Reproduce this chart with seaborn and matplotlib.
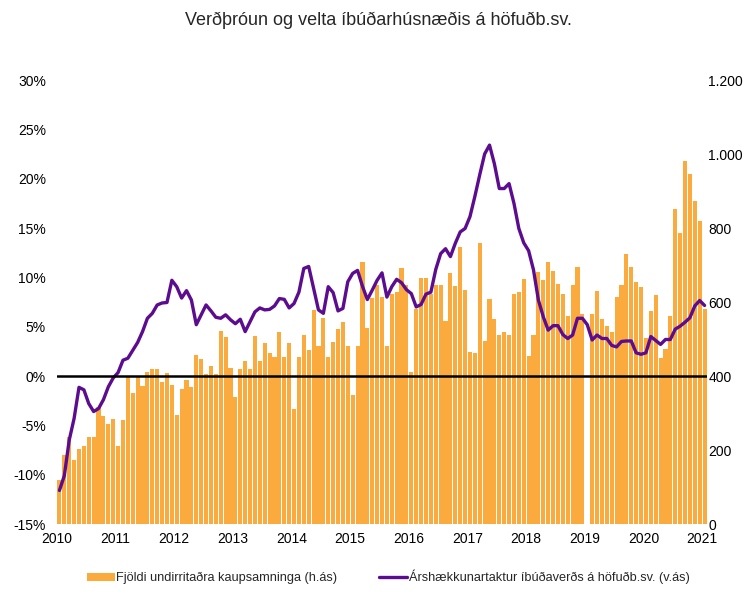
import matplotlib
matplotlib.use("Agg")
import matplotlib.pyplot as plt
import matplotlib.ticker as mticker
import numpy as np
import pandas as pd
import seaborn as sns

# ---- data (monthly, Jan 2010 - Jan 2021) ----
years = list(range(2010, 2022))

contracts = [120, 186, 236, 173, 202, 211, 236, 236, 317, 292, 270, 283,
             211, 281, 398, 355, 397, 373, 412, 418, 418, 385, 407, 376,
             295, 365, 389, 369, 457, 446, 405, 427, 405, 522, 506, 421,
             343, 418, 441, 418, 508, 441, 489, 462, 452, 520, 452, 490,
             311, 452, 511, 470, 578, 481, 556, 452, 492, 527, 546, 481,
             349, 481, 708, 530, 611, 646, 614, 481, 622, 628, 692, 646,
             410, 580, 665, 665, 622, 646, 646, 549, 679, 643, 749, 632,
             466, 462, 759, 495, 608, 554, 511, 518, 511, 622, 627, 662,
             455, 511, 681, 659, 708, 684, 649, 621, 562, 646, 695, 568,
             0, 568, 631, 554, 535, 519, 614, 646, 730, 695, 654, 641,
             504, 577, 619, 449, 473, 562, 851, 786, 981, 946, 873, 819,
             581]

price_growth = [-11.6, -10.1, -6.5, -4.3, -1.15, -1.4, -2.8, -3.6, -3.3, -2.4, -1.1, -0.2,
                0.35, 1.6, 1.8, 2.6, 3.4, 4.5, 5.85, 6.35, 7.2, 7.4, 7.45, 9.7,
                9.05, 7.9, 8.65, 7.7, 5.2, 6.2, 7.2, 6.6, 5.95, 5.85, 6.2, 5.7,
                5.3, 5.75, 4.5, 5.5, 6.5, 6.9, 6.7, 6.75, 7.1, 7.85, 7.77, 6.9,
                7.35, 8.5, 10.9, 11.1, 8.9, 6.7, 6.35, 9.05, 8.45, 6.6, 6.85, 9.55,
                10.4, 10.7, 9.1, 7.75, 8.7, 9.7, 10.45, 8.0, 9.05, 9.8, 9.45, 8.75,
                8.35, 7.0, 7.25, 8.3, 8.5, 10.8, 12.4, 12.9, 12.1, 13.45, 14.6, 14.95,
                16.15, 18.2, 20.4, 22.5, 23.4, 21.5, 19.0, 19.0, 19.5, 17.5, 14.95, 13.5,
                12.7, 10.75, 7.7, 6.0, 4.65, 5.1, 5.1, 4.2, 3.8, 4.15, 5.85, 5.85,
                5.2, 3.65, 4.15, 3.8, 3.8, 3.1, 2.95, 3.5, 3.55, 3.55, 2.35, 2.2,
                2.35, 4.0, 3.6, 3.2, 3.7, 3.7, 4.75, 5.05, 5.45, 5.9, 7.1, 7.65,
                7.15]

bar_label = "Fjöldi undirritaðra kaupsamninga (h.ás)"
line_label = "Árshækkunartaktur íbúðaverðs á höfuðb.sv. (v.ás)"
title = "Verðþróun og velta íbúðarhúsnæðis á höfuðb.sv."

n = len(contracts)
month_pos = np.arange(n) + 0.5
df = pd.DataFrame({"pos": month_pos, "contracts": contracts, "growth": price_growth})

ORANGE = "#FBAA3D"
PURPLE = "#5C0C8F"

sns.set_style("white")
plt.rcParams["font.family"] = ["Liberation Sans", "DejaVu Sans"]

fig = plt.figure(figsize=(7.56, 6.05), dpi=100)
ax_l = fig.add_axes([57 / 756, 1 - 524 / 605, 650 / 756, 444 / 605])
ax_r = ax_l.twinx()

# bars on right axis
sns.barplot(data=df, x="pos", y="contracts", ax=ax_r, native_scale=True,
            orient="x", color=ORANGE, saturation=1, width=0.84,
            errorbar=None, label=bar_label, linewidth=0)
# line on left axis
sns.lineplot(data=df, x="pos", y="growth", ax=ax_l, color=PURPLE,
             linewidth=2.4, label=line_label)
ax_l.axhline(0, color="black", linewidth=1.8, zorder=3)

ax_l.set_zorder(ax_r.get_zorder() + 1)
ax_l.patch.set_visible(False)

ax_l.set_xlim(0, n)
ax_l.set_ylim(-15, 30)
ax_r.set_ylim(0, 1200)
ax_l.set_yticks(np.arange(-15, 31, 5))
ax_l.yaxis.set_major_formatter(mticker.FuncFormatter(lambda v, p: f"{int(v)}%"))
ax_r.set_yticks(np.arange(0, 1201, 200))
ax_r.yaxis.set_major_formatter(
    mticker.FuncFormatter(lambda v, p: f"{int(v):,}".replace(",", ".")))
ax_l.set_xticks([12 * k for k in range(len(years))])
ax_l.set_xticklabels([str(y) for y in years])

for a in (ax_l, ax_r):
    for s in a.spines.values():
        s.set_visible(False)
    a.set_xlabel("")
    a.set_ylabel("")
    a.tick_params(length=0, labelsize=10, colors="black")
ax_l.tick_params(axis="y", pad=8)
ax_r.tick_params(axis="y", pad=1)
ax_l.tick_params(axis="x", pad=6)
ax_r.set_xlim(0, n)

if ax_l.get_legend():
    ax_l.get_legend().remove()
if ax_r.get_legend():
    ax_r.get_legend().remove()

h1, l1 = ax_r.get_legend_handles_labels()
h2, l2 = ax_l.get_legend_handles_labels()
fig.legend(h1 + h2, l1 + l2, loc="center", bbox_to_anchor=(388 / 756, 1 - 577 / 605),
           ncol=2, frameon=False, fontsize=9.2, handlelength=2.2, handleheight=0.55,
           handletextpad=0.1, columnspacing=3.3)

fig.text(0.5, 1 - 20 / 605, title, ha="center", va="center", fontsize=13)

fig.savefig("out.png", dpi=100)
